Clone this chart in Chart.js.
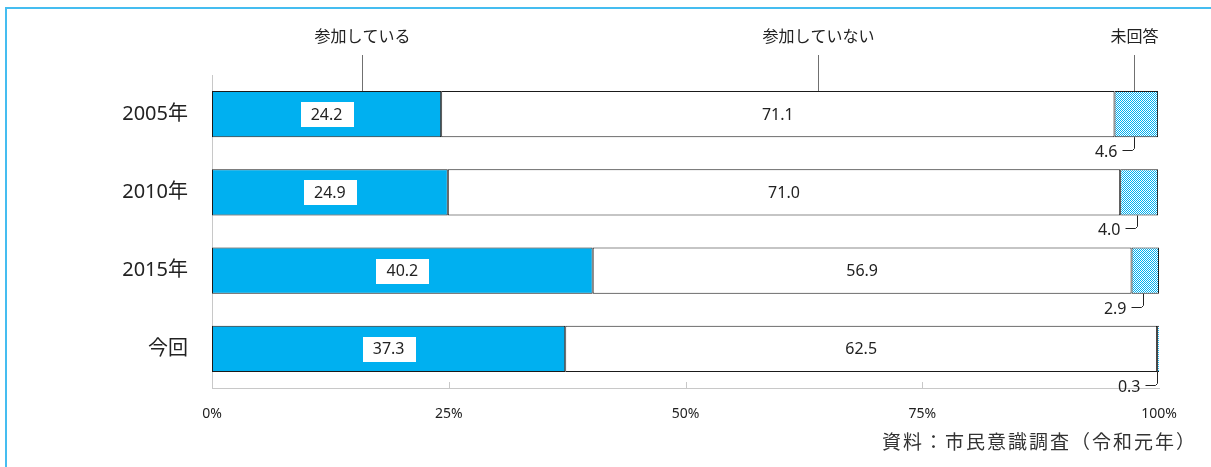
<!DOCTYPE html>
<html lang="ja">
<head>
<meta charset="utf-8">
<title>参加状況</title>
<script src="https://cdn.jsdelivr.net/npm/chart.js@4/dist/chart.umd.min.js"></script>
<style>
  html, body { margin: 0; padding: 0; background: #fff; }
  #wrap { position: relative; width: 1211px; height: 467px; }
  #frame { position: absolute; left: 5px; top: 7px; right: -10px; bottom: -10px; border: 2px solid #45bdf0; box-sizing: border-box; pointer-events: none; }
</style>
</head>
<body>
<div id="wrap">
  <canvas id="myChart"></canvas>
  <div id="frame"></div>
</div>
<script>
const FONT = '"Noto Sans", "Noto Sans CJK JP", sans-serif';

const categories = ['2005年', '2010年', '2015年', '今回'];
const seriesNames = ['参加している', '参加していない', '未回答'];
const participating = [24.2, 24.9, 40.2, 37.3];
const notParticipating = [71.1, 71.0, 56.9, 62.5];
const noAnswer = [4.6, 4.0, 2.9, 0.3];
const xTicks = [0, 25, 50, 75, 100];
const sourceNote = '資料：市民意識調査（令和元年）';

const BLUE = '#00b0f0';

// fine checkerboard fill for the no-answer segment
function checkerPattern() {
    const c = document.createElement('canvas');
    c.width = 2;
    c.height = 2;
    const g = c.getContext('2d');
    g.fillStyle = '#ffffff';
    g.fillRect(0, 0, 2, 2);
    g.fillStyle = BLUE;
    g.fillRect(0, 0, 1, 1);
    g.fillRect(1, 1, 1, 1);
    return g.createPattern(c, 'repeat');
}

const ctx = document.getElementById('myChart').getContext('2d');

// x position (in %) of the series captions above the first bar
const captionAt = [15.8, 64.0, 97.4];

const overlay = {
    id: 'overlay',
    afterDatasetsDraw(chart) {
        const c = chart.ctx;
        const xs = chart.scales.x;
        const area = chart.chartArea;
        c.save();

        // small upward ticks on the value axis
        c.strokeStyle = '#c8c8c8';
        c.lineWidth = 1;
        xTicks.slice(1, -1).forEach(v => {
            const x = Math.round(xs.getPixelForValue(v)) + 0.5;
            c.beginPath();
            c.moveTo(x, area.bottom);
            c.lineTo(x, area.bottom - 6);
            c.stroke();
        });

        // series captions with leader lines down to the first bar
        const firstBar = chart.getDatasetMeta(0).data[0];
        const barTop = firstBar.y - firstBar.height / 2;
        c.font = '16px ' + FONT;
        c.fillStyle = '#222';
        c.textAlign = 'center';
        c.textBaseline = 'middle';
        seriesNames.forEach((name, i) => {
            const x = Math.round(xs.getPixelForValue(captionAt[i])) + 0.5;
            c.fillText(name, x, 37);
            c.strokeStyle = '#707070';
            c.beginPath();
            c.moveTo(x, 55);
            c.lineTo(x, barTop);
            c.stroke();
        });

        // values inside the bars
        const m0 = chart.getDatasetMeta(0);
        const m1 = chart.getDatasetMeta(1);
        const m2 = chart.getDatasetMeta(2);
        c.font = '16px ' + FONT;
        categories.forEach((cat, i) => {
            const b0 = m0.data[i];
            const cx0 = (b0.base + b0.x) / 2;
            const txt0 = participating[i].toFixed(1);
            c.fillStyle = '#fff';
            c.fillRect(Math.round(cx0 - 26), Math.round(b0.y - 12), 53, 25);
            c.fillStyle = '#222';
            c.fillText(txt0, cx0, b0.y + 1);

            const b1 = m1.data[i];
            c.fillText(notParticipating[i].toFixed(1), (b1.base + b1.x) / 2, b1.y + 1);

            // no-answer value sits below the bar with a bent leader line
            const b2 = m2.data[i];
            const bottom = b2.y + b2.height / 2;
            let lx = Math.min((b2.base + b2.x) / 2 - 2, b2.x - 2);
            lx = Math.round(lx) + 0.5;
            const ly = Math.round(bottom + 13) + 0.5;
            c.strokeStyle = '#222';
            c.beginPath();
            c.moveTo(lx, bottom);
            c.lineTo(lx, ly - 2);
            c.lineTo(lx - 2, ly);
            c.lineTo(lx - 12, ly);
            c.stroke();
            c.textAlign = 'right';
            c.fillText(noAnswer[i].toFixed(1), lx - 17, ly + 2);
            c.textAlign = 'center';
        });

        // source note
        c.font = '19px ' + FONT;
        c.fillStyle = '#333';
        c.textAlign = 'right';
        if ('letterSpacing' in c) c.letterSpacing = '2px';
        c.fillText(sourceNote, 1197, 444);
        c.restore();
    }
};

const data = {
    labels: categories,
    datasets: [
        {
            label: seriesNames[0],
            data: participating,
            backgroundColor: BLUE,
            borderColor: '#1a1a1a',
            borderWidth: 1,
            borderSkipped: false,
        },
        {
            label: seriesNames[1],
            data: notParticipating,
            backgroundColor: '#ffffff',
            borderColor: '#1a1a1a',
            borderWidth: 1,
            borderSkipped: false,
        },
        {
            label: seriesNames[2],
            data: noAnswer,
            backgroundColor: checkerPattern(),
            borderColor: '#1a1a1a',
            borderWidth: 1,
            borderSkipped: false,
        },
    ],
};

const config = {
    type: 'bar',
    data: data,
    plugins: [overlay],
    options: {
        indexAxis: 'y',
        responsive: true,
        maintainAspectRatio: false,
        animation: false,
        layout: { padding: { left: 0, right: 52, top: 75, bottom: 0 } },
        datasets: { bar: { barPercentage: 0.59, categoryPercentage: 1 } },
        plugins: {
            legend: { display: false },
            tooltip: { enabled: false },
        },
        scales: {
            x: {
                stacked: true,
                min: 0,
                max: 100,
                afterBuildTicks: (scale) => {
                    scale.ticks = xTicks.map(v => ({ value: v }));
                },
                afterFit: (scale) => { scale.height = 79; },
                grid: { display: false },
                border: { display: true, color: '#c8c8c8' },
                ticks: {
                    padding: 10,
                    color: '#222',
                    font: { family: FONT, size: 14 },
                    maxRotation: 0,
                    callback: (value) => value + '%',
                },
            },
            y: {
                stacked: true,
                afterFit: (scale) => { scale.width = 212; },
                grid: { display: false },
                border: { display: true, color: '#c8c8c8' },
                ticks: {
                    padding: 16,
                    color: '#222',
                    font: { family: FONT, size: 20 },
                },
            },
        },
    },
};

const myChart = new Chart(ctx, config);
</script>
</body>
</html>
